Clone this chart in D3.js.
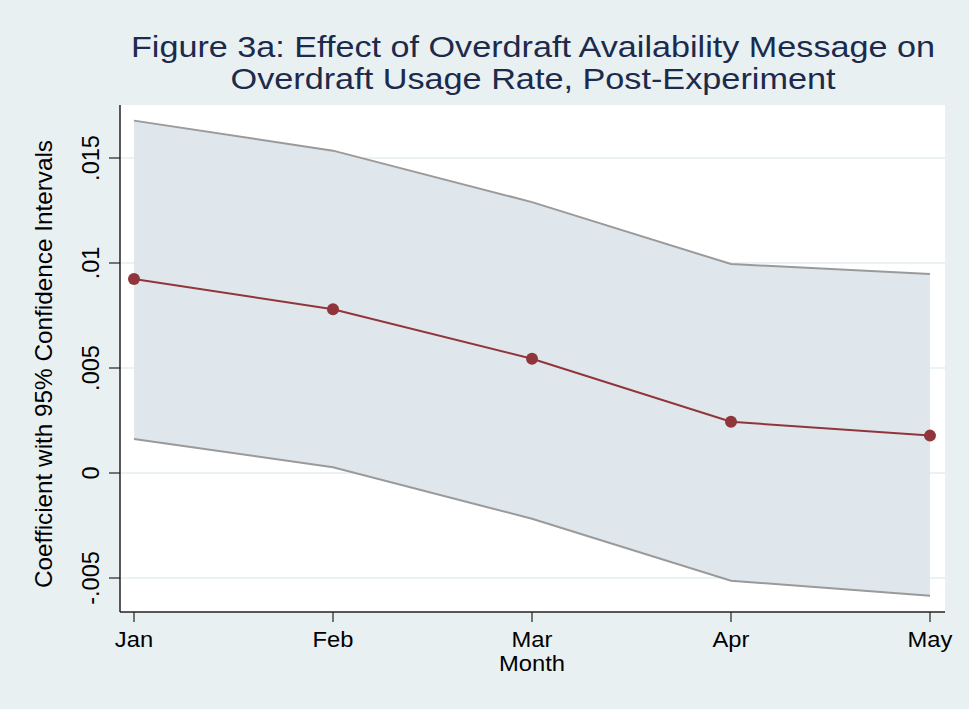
<!doctype html>
<meta charset="utf-8">
<style>
body {
  margin: 0;
  background: #e9f0f2;
  font-family: "Liberation Sans", Arial, sans-serif;
}
</style>
<script src="https://cdn.jsdelivr.net/npm/d3@7"></script>
<body>

<script>

var months = ["Jan", "Feb", "Mar", "Apr", "May"];
var coef   = [0.00924, 0.00780, 0.00544, 0.00244, 0.00178];
var upper  = [0.01678, 0.01535, 0.01290, 0.00995, 0.00948];
var lower  = [0.00162, 0.00027, -0.00218, -0.00513, -0.00584];
var yTicks = [-0.005, 0, 0.005, 0.01, 0.015];
var yTickLabels = ["-.005", "0", ".005", ".01", ".015"];

var w = 969, h = 709;

// plot region (not "top": that name is taken by window.top)
var pl = 120, pr = 945, pt = 105, pb = 612;

var svg = d3.select("body")
  .append("svg")
    .attr("width", w)
    .attr("height", h)

svg.append("rect")
    .attr("width", w)
    .attr("height", h)
    .style("fill", "#e9f0f2");

svg.append("rect")
    .attr("x", pl)
    .attr("y", pt)
    .attr("width", pr - pl)
    .attr("height", pb - pt)
    .style("fill", "#fff");

var x = d3.scalePoint()
    .domain(months)
    .range([134, 930]);

var y = d3.scaleLinear()
    .domain([-0.005, 0.015])
    .range([578, 158]);

// gridlines
svg.selectAll(".grid")
    .data(yTicks)
  .enter().append("line")
    .attr("x1", pl)
    .attr("x2", pr)
    .attr("y1", d => y(d))
    .attr("y2", d => y(d))
    .style("stroke", "#eaf2f3")
    .style("stroke-width", 2);

// confidence band
var rows = months.map((m, i) => ({m: m, c: coef[i], hi: upper[i], lo: lower[i]}));

svg.append("path")
    .datum(rows)
    .attr("d", d3.area().x(d => x(d.m)).y0(d => y(d.lo)).y1(d => y(d.hi)))
    .style("fill", "#dfe7ec");

svg.append("path")
    .datum(rows)
    .attr("d", d3.line().x(d => x(d.m)).y(d => y(d.hi)))
    .style("fill", "none")
    .style("stroke", "#9a9a9a")
    .style("stroke-width", 2);

svg.append("path")
    .datum(rows)
    .attr("d", d3.line().x(d => x(d.m)).y(d => y(d.lo)))
    .style("fill", "none")
    .style("stroke", "#9a9a9a")
    .style("stroke-width", 2);

// coefficient line
svg.append("path")
    .datum(rows)
    .attr("d", d3.line().x(d => x(d.m)).y(d => y(d.c)))
    .style("fill", "none")
    .style("stroke", "#90353b")
    .style("stroke-width", 2);

svg.selectAll(".pt")
    .data(rows)
  .enter().append("circle")
    .attr("cx", d => x(d.m))
    .attr("cy", d => y(d.c))
    .attr("r", 6)
    .style("fill", "#90353b");

// axes
svg.append("line")
    .attr("x1", pl).attr("x2", pl)
    .attr("y1", pt).attr("y2", pb)
    .style("stroke", "#222").style("stroke-width", 1.5);

svg.append("line")
    .attr("x1", pl).attr("x2", pr)
    .attr("y1", pb).attr("y2", pb)
    .style("stroke", "#222").style("stroke-width", 1.5);

svg.selectAll(".ytick")
    .data(yTicks)
  .enter().append("line")
    .attr("x1", pl - 11).attr("x2", pl)
    .attr("y1", d => y(d)).attr("y2", d => y(d))
    .style("stroke", "#222").style("stroke-width", 1.2);

svg.selectAll(".ylab")
    .data(yTicks)
  .enter().append("text")
    .attr("transform", d => "translate(99," + y(d) + ") rotate(-90)")
    .attr("text-anchor", "middle")
    .style("font-size", "23.5px")
    .style("fill", "#000")
    .text((d, i) => yTickLabels[i]);

svg.selectAll(".xtick")
    .data(months)
  .enter().append("line")
    .attr("x1", d => x(d)).attr("x2", d => x(d))
    .attr("y1", pb).attr("y2", pb + 10)
    .style("stroke", "#222").style("stroke-width", 1.2);

svg.selectAll(".xlab")
    .data(months)
  .enter().append("text")
    .attr("transform", d => "translate(" + x(d) + ",647) scale(1.08,1)")
    .attr("text-anchor", "middle")
    .style("font-size", "22px")
    .text(d => d);

svg.append("text")
    .attr("transform", "translate(" + x("Mar") + ",671) scale(1.08,1)")
    .attr("text-anchor", "middle")
    .style("font-size", "22px")
    .text("Month");

svg.append("text")
    .attr("transform", "translate(52,364) rotate(-90)")
    .attr("text-anchor", "middle")
    .attr("textLength", 448)
    .attr("lengthAdjust", "spacingAndGlyphs")
    .style("font-size", "24.5px")
    .text("Coefficient with 95% Confidence Intervals");

// title
var title = ["Figure 3a: Effect of Overdraft Availability Message on",
             "Overdraft Usage Rate, Post-Experiment"];
var titleWidths = [804, 605];

svg.selectAll(".title")
    .data(title)
  .enter().append("text")
    .attr("x", 533)
    .attr("y", (d, i) => 57 + i * 31.5)
    .attr("text-anchor", "middle")
    .attr("textLength", (d, i) => titleWidths[i])
    .attr("lengthAdjust", "spacingAndGlyphs")
    .style("font-size", "29px")
    .style("fill", "#1c2a4c")
    .text(d => d);

</script>
